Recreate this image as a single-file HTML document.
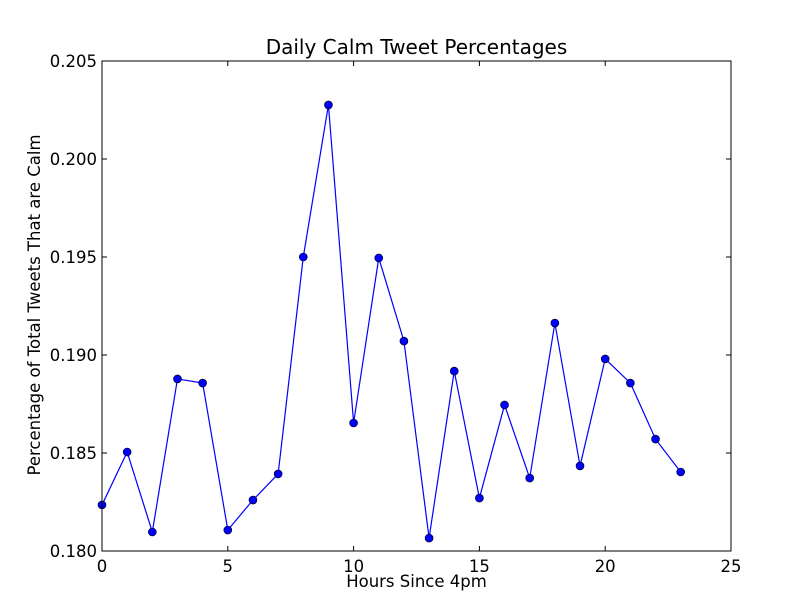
<!DOCTYPE html>
<html><head><meta charset="utf-8"><style>
body{margin:0;background:#fff;}
svg{display:block;font-family:"DejaVu Sans","Liberation Sans",sans-serif;}
</style></head><body>
<svg id="chart" width="812" height="612" viewBox="0 0 812 612" xmlns="http://www.w3.org/2000/svg">
<rect width="812" height="612" fill="#fff"/>
<text x="416.5" y="54" text-anchor="middle" font-size="20">Daily Calm Tweet Percentages</text>
<text x="416.5" y="587" text-anchor="middle" font-size="16.5">Hours Since 4pm</text>
<text transform="translate(40,305) rotate(-90)" text-anchor="middle" font-size="16.5">Percentage of Total Tweets That are Calm</text>
<g id="ticks"></g>
<g id="series"></g>
<rect x="102" y="61" width="629" height="490" fill="none" stroke="#000" stroke-width="1"/>
</svg>
<script>
const hours = [0,1,2,3,4,5,6,7,8,9,10,11,12,13,14,15,16,17,18,19,20,21,22,23];
const calmPct = [0.18235,0.18505,0.18097,0.18878,0.18857,0.18107,0.1826,0.18393,0.1950,0.20276,0.18653,0.19495,0.19071,0.18066,0.18918,0.1827,0.18745,0.18372,0.19163,0.18434,0.1898,0.18857,0.18571,0.18403];
const xTicks = [0,5,10,15,20,25];
const yTicks = [0.180,0.185,0.190,0.195,0.200,0.205];
const yTickLabels = ["0.180","0.185","0.190","0.195","0.200","0.205"];

const X0=102,X1=731,Y0=551,Y1=61;
const xs = v => X0 + (v-0)/(25-0)*(X1-X0);
const ys = v => Y0 - (v-0.180)/(0.205-0.180)*(Y0-Y1);
const NS="http://www.w3.org/2000/svg";
const tg=document.getElementById('ticks'), sg=document.getElementById('series');
function mk(tag,attrs,parent){const e=document.createElementNS(NS,tag);for(const k in attrs)e.setAttribute(k,attrs[k]);parent.appendChild(e);return e;}
xTicks.forEach(t=>{
  const x=xs(t);
  const l1=mk('line',{x1:x,x2:x,y1:Y0,y2:Y0-5,stroke:'#000'},tg);
  
  
  mk('line',{x1:x,x2:x,y1:Y1,y2:Y1+5,stroke:'#000'},tg);
  const tx=mk('text',{x:x,y:Y0+21,'text-anchor':'middle','font-size':16.5},tg);
  tx.textContent=String(t);
  
  
});
yTicks.forEach((t,i)=>{
  const y=ys(t);
  const l1=mk('line',{x1:X0,x2:X0+5,y1:y,y2:y,stroke:'#000'},tg);
  
  
  mk('line',{x1:X1,x2:X1-5,y1:y,y2:y,stroke:'#000'},tg);
  const tx=mk('text',{x:X0-5,y:y+6,'text-anchor':'end','font-size':16.5},tg);
  tx.textContent=yTickLabels[i];
  
  
});
const pts=hours.map((h,i)=>xs(h)+','+ys(calmPct[i])).join(' ');
const pl=mk('polyline',{points:pts,fill:'none',stroke:'#0000ff','stroke-width':1.2},sg);


hours.forEach((h,i)=>{
  const c=mk('circle',{cx:xs(h),cy:ys(calmPct[i]),r:4,fill:'#0000ff',stroke:'#000','stroke-width':0.6},sg);
  
  
});
</script>
</body></html>
